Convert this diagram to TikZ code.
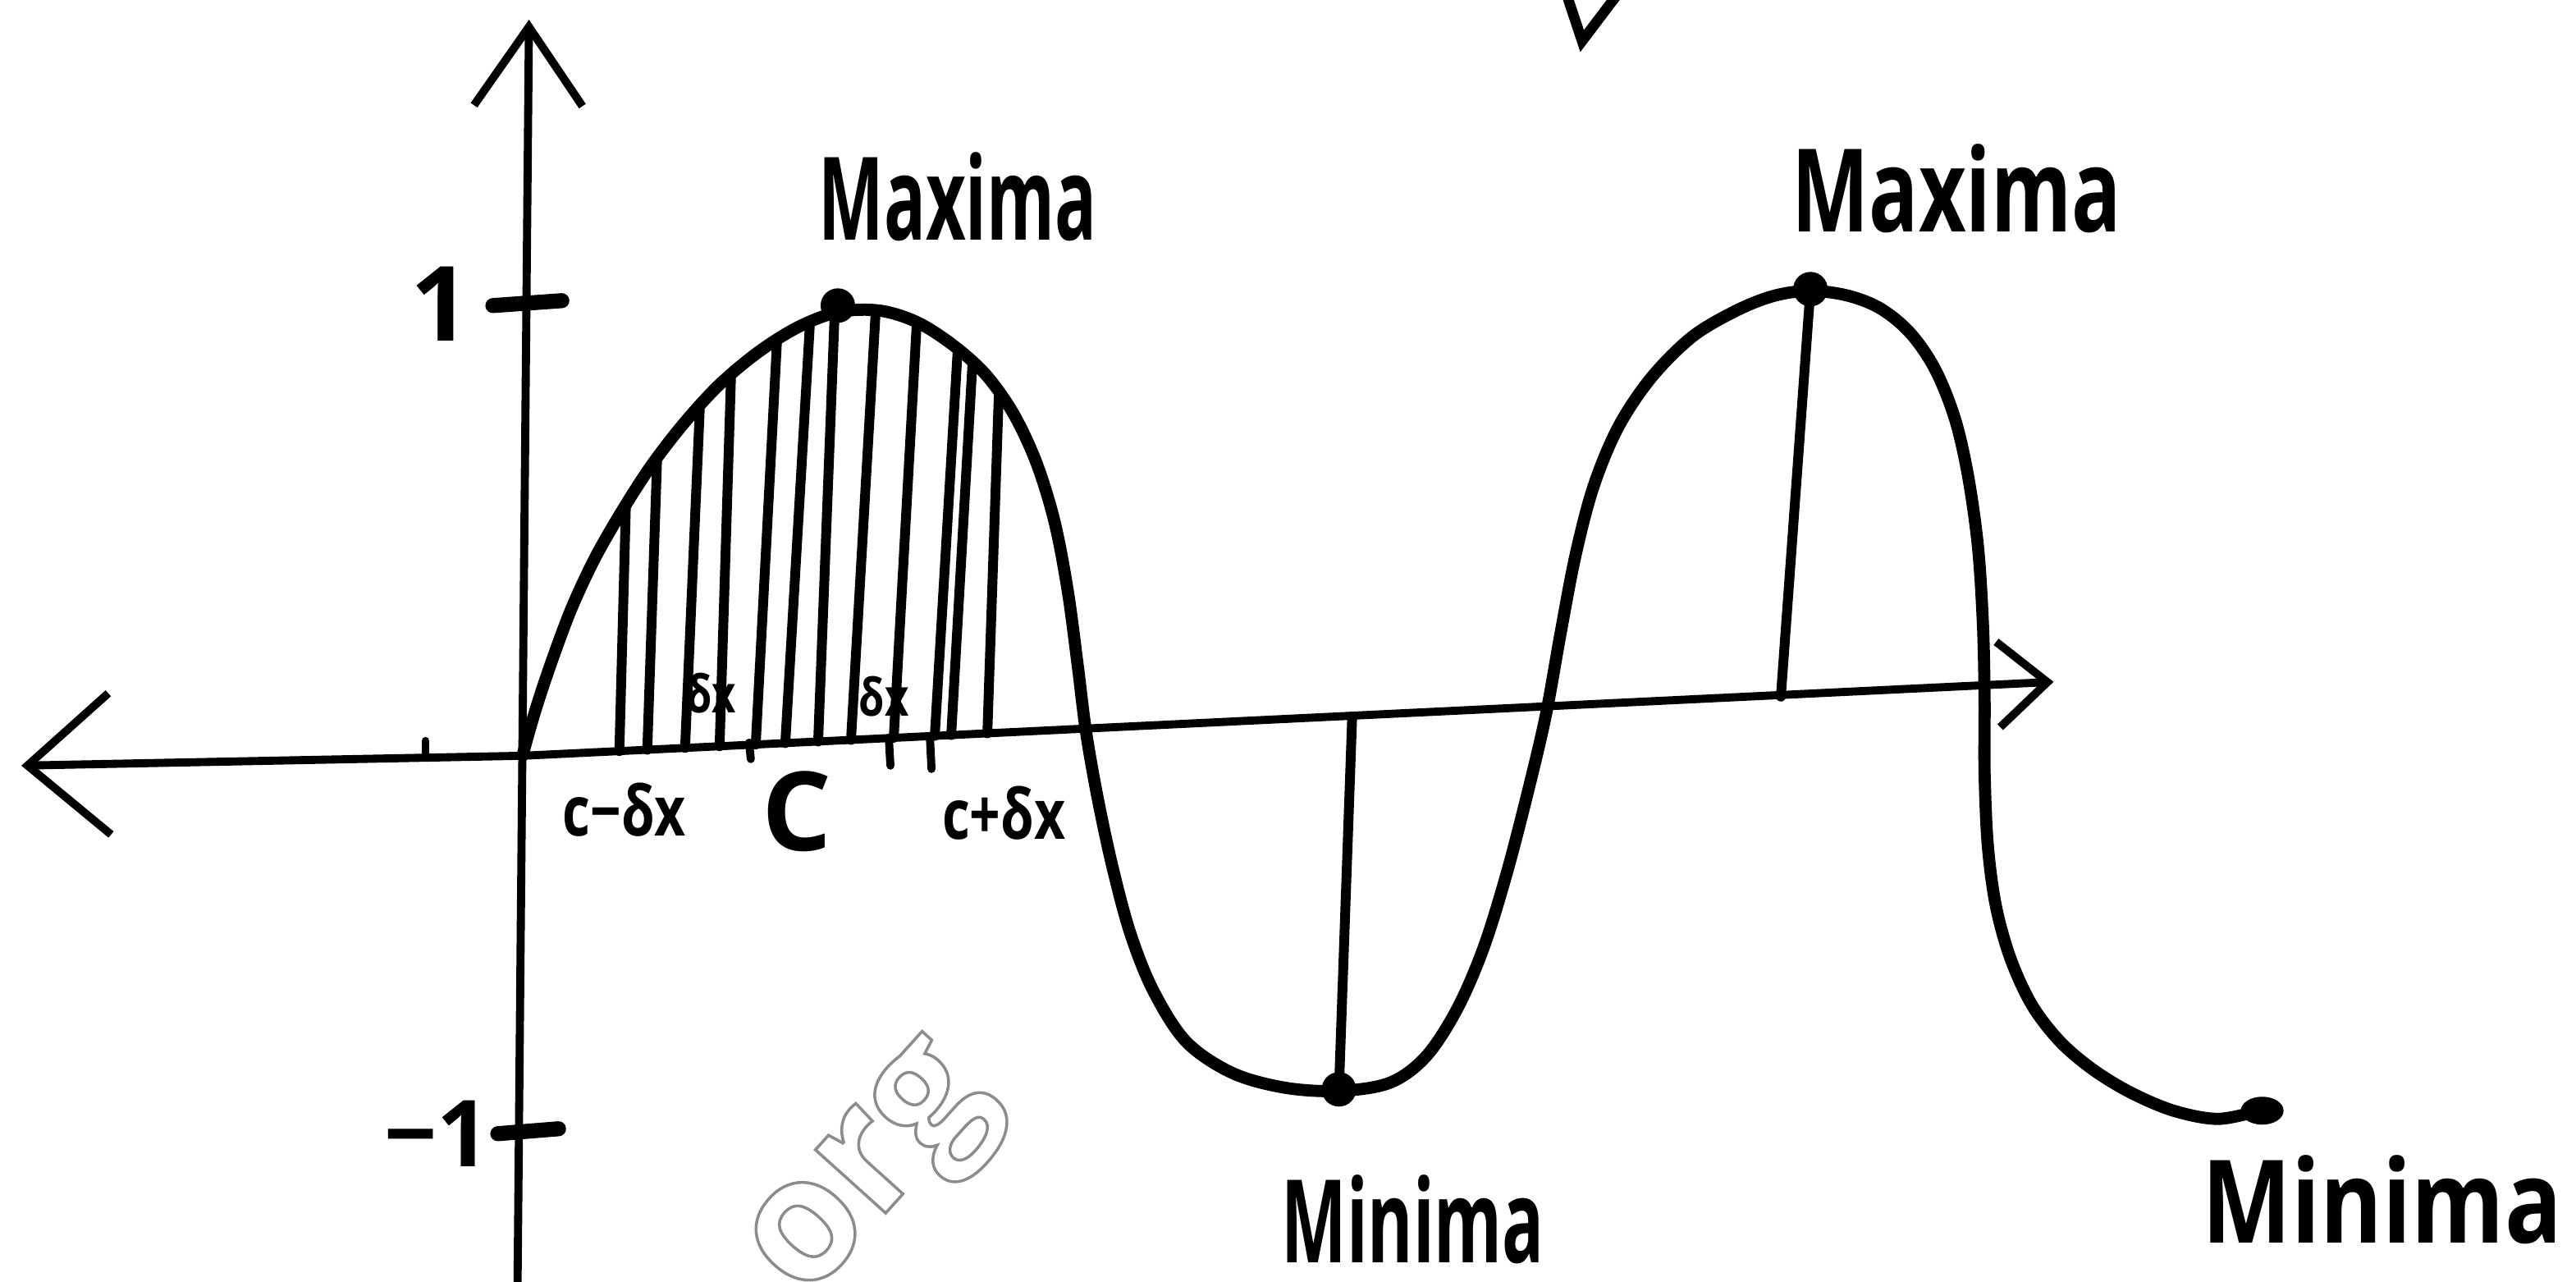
\documentclass[tikz,border=0pt]{standalone}
\usepackage{fontspec}
\usepackage{tikz}
\usetikzlibrary{arrows.meta}
\newfontfamily\handfont{Open Sans}
\newcommand{\narrow}[2][0.72]{\scalebox{#1}[1]{#2}}

\begin{document}
\begin{tikzpicture}[
  x=0.1mm, y=-0.1mm,
  axis/.style={line width=1.4pt, line cap=round, line join=round},
  curve/.style={line width=2.1pt, line cap=round, line join=round},
  hatch/.style={line width=1.7pt, line cap=round},
  tick/.style={line width=2.6pt, line cap=round},
  word/.style={font=\handfont\bfseries\fontsize{20}{20}\selectfont, inner sep=0},
  small/.style={font=\handfont\bfseries\fontsize{12}{12}\selectfont, inner sep=0},
  tiny/.style={font=\handfont\bfseries\fontsize{9}{9}\selectfont, inner sep=0}
]
  \useasboundingbox (0,0) rectangle (1568,780);

  \coordinate (o) at (318,460);
  \coordinate (xl) at (13,466);
  \coordinate (xr) at (1250,415);
  \coordinate (yb) at (315,785);
  \coordinate (yt) at (322,12);
  \coordinate (max1) at (510,186);
  \coordinate (min1) at (815,663);
  \coordinate (max2) at (1102,176);
  \coordinate (min2) at (1377,676);
  \coordinate (max2foot) at (1084,424);
  \coordinate (min1foot) at (823,438);

  \draw[axis, {Straight Barb[length=5mm, width=8.6mm]}-{Straight Barb[length=3mm, width=5.2mm]}] (xl) -- (o) -- (xr);
  \draw[axis, -{Straight Barb[length=4.8mm, width=6.6mm]}] (yb) -- (yt);

  \draw[tick] (300,186) -- (342,183);
  \draw[tick] (303,690) -- (340,687);
  \draw[axis] (259,461) -- (259,451);
  \draw[axis] (456,452) -- (457,462);
  \draw[axis] (541,449) -- (542,466);
  \draw[axis] (566,448) -- (567,468);

  \foreach \bx/\tx/\ty in {377/381/307, 394/400/279, 417/426/248, 438/445/228,
      460/473/207, 478/493/197, 498/508/192, 518/533/190, 544/558/197,
      569/583/212, 579/592/220, 601/608/239}
    \draw[hatch] ({\bx},{460-0.0484*(\bx-318)}) -- (\tx,\ty);

  \draw[curve] plot[smooth, tension=0.55] coordinates {
    (318,460) (326,432) (336,402) (348,370) (362,340) (378,312) (396,284)
    (416,258) (438,234) (462,214) (486,199) (510,190) (535,189) (558,196)
    (580,210) (600,228) (617,252) (631,282) (642,318) (650,360) (656,405)
    (661,445) (668,485) (677,527) (688,568) (702,603) (722,634) (750,653)
    (782,662) (815,664) (846,659) (868,643) (887,614) (903,577) (917,532)
    (930,482) (941,435) (950,385) (959,338) (970,296) (985,260) (1005,230)
    (1030,205) (1057,189) (1080,180) (1102,177) (1125,180) (1145,188)
    (1163,203) (1178,225) (1190,255) (1198,290) (1204,333) (1207,380)
    (1208,425) (1208,470) (1210,515) (1215,552) (1224,584) (1237,612)
    (1254,634) (1274,651) (1297,665) (1323,676) (1350,681) (1375,676)};

  \draw[hatch] (max2) -- (max2foot);
  \draw[hatch] (min1foot) -- (min1);

  \fill (max1) circle[radius=1.05mm];
  \fill (min1) circle[radius=1.05mm];
  \fill (max2) circle[radius=1.05mm];
  \fill (min2) ellipse[x radius=1.3mm, y radius=0.85mm];

  \draw[line width=1.8pt, line cap=round] (952,-8) -- (963,25) -- (988,-8);

  \node[word] (maxa) at (583,120) {\narrow[0.6]{Maxima}};
  \node[word] (maxb) at (1191,115) {\narrow[0.71]{Maxima}};
  \node[word] (mina) at (860,742) {\narrow[0.6]{Minima}};
  \node[word] (minb) at (1450,730) {\narrow[0.82]{Minima}};

  \node[word, font=\handfont\bfseries\fontsize{18}{18}\selectfont] (one) at (268,185) {1};
  \node[word, font=\handfont\bfseries\fontsize{16}{16}\selectfont] (mone) at (266,690) {−1};

  \node[small] (cm) at (380,493) {\narrow[0.78]{c−δx}};
  \node[word, font=\handfont\bfseries\fontsize{19}{19}\selectfont] (c) at (485,494) {C};
  \node[small] (cp) at (611,495) {\narrow[0.78]{c+δx}};
  \node[tiny] (dxa) at (433,422) {\narrow[0.8]{δx}};
  \node[tiny] (dxb) at (538,424) {\narrow[0.8]{δx}};

  \node[rotate=48, font=\handfont\bfseries\fontsize{30}{30}\selectfont, inner sep=0] (wm) at (535,718)
    {\color{black!45}\special{pdf:literal direct 1 Tr 0.5 w}org\special{pdf:literal direct 0 Tr}};
\end{tikzpicture}
\end{document}
